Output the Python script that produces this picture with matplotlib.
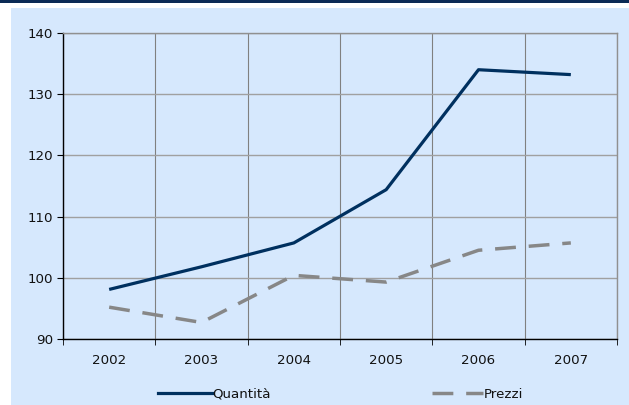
import matplotlib
matplotlib.use("Agg")
import matplotlib.pyplot as plt
from matplotlib.patches import Rectangle
from matplotlib.lines import Line2D

years = ["2002", "2003", "2004", "2005", "2006", "2007"]
quantita = [98.1, 101.8, 105.7, 114.4, 134.0, 133.2]
prezzi = [95.2, 92.7, 100.4, 99.3, 104.5, 105.7]
yticks = [90, 100, 110, 120, 130, 140]

W, H = 629, 405
fig = plt.figure(figsize=(W / 100, H / 100), dpi=100)
fig.patch.set_facecolor("white")
bg = "#D6E8FD"
fig.patches.append(Rectangle((11 / W, 0), 1 - 11 / W, (H - 8) / H,
                             transform=fig.transFigure, facecolor=bg, edgecolor="none", zorder=-5))
fig.patches.append(Rectangle((0, 1 - 3 / H), 1, 3 / H,
                             transform=fig.transFigure, facecolor="#0B2A55", edgecolor="none", zorder=-5))

ax = fig.add_axes([63 / W, 1 - 339 / H, (617 - 63) / W, (339 - 33) / H])
ax.set_zorder(2)
ax.set_facecolor(bg)

x = list(range(len(years)))
navy = "#00305F"
grey = "#878787"
dash = (6.0, 3.7)
fs = 9.6
ax.plot(x, quantita, color=navy, lw=2.3, solid_capstyle="butt", zorder=3)
ax.plot(x, prezzi, color=grey, lw=2.5, dashes=dash, dash_capstyle="butt", zorder=3)

ax.set_xlim(-0.5, len(years) - 0.5)
ax.set_ylim(90, 140)
ax.set_yticks(yticks)
ax.set_xticks(x)
ax.set_xticklabels(years)
ax.set_xticks([i - 0.5 for i in range(len(years) + 1)], minor=True)

ax.grid(True, axis="y", which="major", color="#A0A0A0", lw=1)
ax.grid(True, axis="x", which="minor", color="#808080", lw=0.8)
ax.grid(False, axis="x", which="major")

for s in ["top", "right"]:
    ax.spines[s].set_color("#909090")
    ax.spines[s].set_linewidth(1)
for s in ["left", "bottom"]:
    ax.spines[s].set_color("black")
    ax.spines[s].set_linewidth(1)

ax.tick_params(axis="x", which="major", length=0, pad=10.5, labelsize=fs, labelcolor="#111111")
ax.tick_params(axis="x", which="minor", length=4, direction="out", color="black")
ax.tick_params(axis="y", length=4, direction="out", labelsize=fs, pad=3, labelcolor="#111111")
ax.set_axisbelow(True)

h1 = Line2D([], [], color=navy, lw=2.3)
h2 = Line2D([], [], color=grey, lw=2.5, dashes=dash)
for h, lab, x0, hl in [(h1, "Quantità", 158, 54), (h2, "Prezzi", 432, 51)]:
    leg = fig.legend([h], [lab], loc="center left", bbox_to_anchor=(x0 / W, 1 - 394 / H),
                     frameon=False, fontsize=fs, handlelength=hl * 0.72 / fs,
                     handletextpad=0.05, borderpad=0, borderaxespad=0,
                     labelcolor="#111111")
    leg.set_zorder(3)

fig.savefig("out.png", dpi=100, facecolor=fig.get_facecolor())
